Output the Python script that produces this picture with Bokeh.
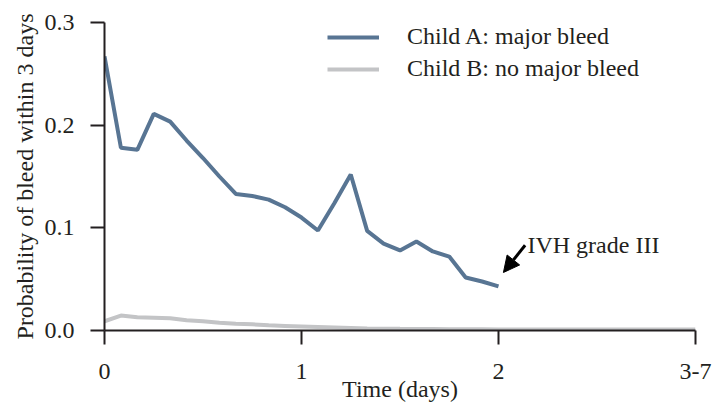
from bokeh.plotting import figure
from bokeh.models import Range1d, Legend, LegendItem, Arrow, NormalHead, Label, FixedTicker
from bokeh.embed import file_html
from bokeh.resources import INLINE

# ---- data ----
time_a = [i / 12 for i in range(25)]
prob_a = [0.267, 0.178, 0.176, 0.211, 0.2035, 0.185, 0.168, 0.150, 0.133,
          0.131, 0.1275, 0.120, 0.110, 0.0974, 0.124, 0.152, 0.097, 0.0847,
          0.078, 0.0867, 0.077, 0.072, 0.0516, 0.0477, 0.043]
time_b = [i / 12 for i in range(25)] + [3.0]
prob_b = [0.009, 0.0145, 0.013, 0.0125, 0.012, 0.010, 0.009, 0.0075, 0.0065,
          0.006, 0.005, 0.0045, 0.004, 0.0035, 0.003, 0.0025, 0.002, 0.0018,
          0.0016, 0.0015, 0.0014, 0.0013, 0.0012, 0.0011, 0.001, 0.001]
x_ticks = [0, 1, 2, 3]
x_tick_labels = ["0", "1", "2", "3-7"]
y_ticks = [0.0, 0.1, 0.2, 0.3]
y_tick_labels = ["0.0", "0.1", "0.2", "0.3"]
series_names = ["Child A: major bleed", "Child B: no major bleed"]
annotation_text = "IVH grade III"

FONT = "Liberation Serif"
TXT = "#231f20"
BLUE = "#587593"
GRAY = "#c3c4c6"

p = figure(width=716, height=405, output_backend="svg", toolbar_location=None,
           x_range=Range1d(0, 3), y_range=Range1d(0, 0.3),
           min_border_left=104, min_border_right=21, min_border_top=22,
           min_border_bottom=75)
p.outline_line_color = None
p.xgrid.visible = False
p.ygrid.visible = False
p.background_fill_color = "white"

ra = p.line(time_a, prob_a, line_color=BLUE, line_width=4)
rb = p.line(time_b, prob_b, line_color=GRAY, line_width=4)

for ax in (p.xaxis[0], p.yaxis[0]):
    ax.axis_line_color = TXT
    ax.axis_line_width = 2
    ax.major_tick_line_color = TXT
    ax.major_tick_line_width = 2
    ax.major_tick_in = 0
    ax.major_tick_out = 14
    ax.minor_tick_line_color = None
    ax.major_label_text_font = FONT
    ax.major_label_text_font_size = "24px"
    ax.major_label_text_color = TXT
    ax.axis_label_text_font = FONT
    ax.axis_label_text_font_size = "24px"
    ax.axis_label_text_font_style = "normal"
    ax.axis_label_text_color = TXT

p.xaxis.ticker = FixedTicker(ticks=x_ticks)
p.xaxis.major_label_overrides = {t: l for t, l in zip(x_ticks, x_tick_labels)}
p.yaxis.ticker = FixedTicker(ticks=y_ticks)
p.yaxis.major_label_overrides = {t: l for t, l in zip(y_ticks, y_tick_labels)}
p.xaxis.major_label_standoff = 19
p.yaxis.major_label_standoff = 16
p.xaxis.axis_label = "Time (days)"
p.yaxis.axis_label = "Probability of bleed within 3 days"
p.xaxis.axis_label_standoff = -6
p.yaxis.axis_label_standoff = 4

legend = Legend(items=[LegendItem(label=series_names[0], renderers=[ra]),
                       LegendItem(label=series_names[1], renderers=[rb])],
                location=(223, 248), orientation="vertical")
legend.border_line_color = None
legend.background_fill_alpha = 0
legend.padding = 0
legend.margin = 0
legend.spacing = 5
legend.glyph_width = 52
legend.glyph_height = 26
legend.label_standoff = 28
legend.label_text_font = FONT
legend.label_text_font_size = "24px"
legend.label_text_color = TXT
p.add_layout(legend)

# annotation pointing at the last point of child A
lx, ly = time_a[-1], prob_a[-1]
p.add_layout(Arrow(end=NormalHead(size=16, fill_color="black", line_color="black"),
                   x_start=lx + 0.135, y_start=ly + 0.040,
                   x_end=lx + 0.025, y_end=ly + 0.0135,
                   line_color="black", line_width=3))
p.add_layout(Label(x=lx + 0.147, y=ly + 0.040, text=annotation_text,
                   text_font=FONT, text_font_size="24px", text_color=TXT,
                   text_baseline="alphabetic"))

open("out.html", "w").write(file_html(p, INLINE))
